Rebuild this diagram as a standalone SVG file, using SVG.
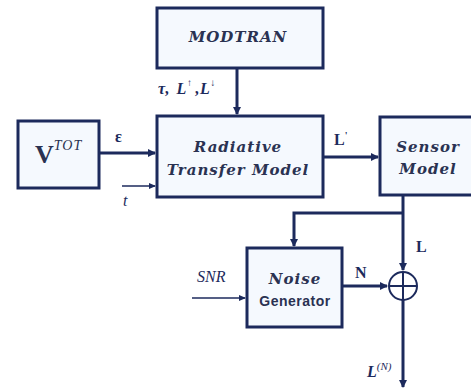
<svg xmlns="http://www.w3.org/2000/svg" width="471" height="389" viewBox="0 0 471 389">
<defs>
<marker id="ah" markerWidth="9" markerHeight="9" refX="7" refY="4.5" orient="auto" markerUnits="userSpaceOnUse"><path d="M0,0.5 L8,4.5 L0,8.5 Z" fill="#1c2a5c"/></marker>
<marker id="ahs" markerWidth="8" markerHeight="8" refX="6" refY="4" orient="auto" markerUnits="userSpaceOnUse"><path d="M0,1 L7,4 L0,7 Z" fill="#1c2a5c"/></marker>
</defs>
<style>
.box{fill:#f5f9fe;stroke:#1c2a5c;stroke-width:3}
.bt{font-family:"DejaVu Serif",serif;font-weight:bold;font-style:italic;font-size:15px;letter-spacing:1px;fill:#2a3252;text-anchor:middle}
.lbl{font-family:"Liberation Serif",serif;fill:#1c2a5c;font-size:16px}
.ln{stroke:#1c2a5c;stroke-width:3;fill:none}
.thin{stroke:#1c2a5c;stroke-width:1.5;fill:none}
</style>
<rect width="471" height="389" fill="#ffffff"/>
<g id="modtran"><rect class="box" x="157" y="8" width="166" height="60"/><text class="bt" x="238" y="42" font-size="14" letter-spacing="0.8">MODTRAN</text></g>
<g id="vtot"><rect class="box" x="18" y="121" width="81" height="67"/><text x="35" y="163" font-family="Liberation Serif,serif" fill="#2a3252"><tspan font-weight="bold" font-size="26">V</tspan><tspan font-style="italic" font-size="14" letter-spacing="1" dy="-13">TOT</tspan></text></g>
<g id="rtm"><rect class="box" x="157" y="116" width="166" height="81"/><text class="bt" x="238" y="152">Radiative</text><text class="bt" x="238" y="175">Transfer Model</text></g>
<g id="sensor"><rect class="box" x="380" y="117" width="98" height="78"/><text class="bt" x="428" y="152">Sensor</text><text class="bt" x="428" y="174">Model</text></g>
<g id="noise"><rect class="box" x="247" y="248" width="95" height="79"/><text class="bt" x="295" y="284">Noise</text><text x="295" y="306" font-family="Liberation Sans,sans-serif" font-weight="bold" font-size="14" letter-spacing="0.5" fill="#2a3252" text-anchor="middle">Generator</text></g>
<g id="sum"><circle cx="403" cy="286" r="14" fill="#ffffff" stroke="#1c2a5c" stroke-width="2"/><path d="M389,286 H417 M403,272 V300" stroke="#1c2a5c" stroke-width="2"/></g>
<g id="connectors">
<path class="ln" d="M237,68 V114" marker-end="url(#ah)"/>
<path class="ln" d="M99,153 H155" marker-end="url(#ah)"/>
<path class="thin" d="M122,186 H155" marker-end="url(#ahs)"/>
<path class="ln" d="M323,157 H378" marker-end="url(#ah)"/>
<path class="ln" d="M403,195 V270" marker-end="url(#ah)"/>
<path class="ln" d="M403,213 H294 V246" marker-end="url(#ah)"/>
<path class="thin" d="M192,298 H245" marker-end="url(#ahs)"/>
<path class="ln" d="M342,286 H387" marker-end="url(#ah)"/>
<path class="ln" d="M403,300 V387" marker-end="url(#ah)"/>
</g>
<g id="labels">
<text class="lbl" x="158" y="94" font-style="italic" font-weight="bold" letter-spacing="0.5">τ, <tspan dx="2">L</tspan><tspan font-size="10" dy="-8">↑</tspan><tspan dy="8" dx="3">,L</tspan><tspan font-size="10" dy="-8">↓</tspan></text>
<text class="lbl" x="115" y="142" font-weight="bold">ε</text>
<text class="lbl" x="123" y="206" font-style="italic">t</text>
<text class="lbl" x="334" y="145" font-weight="bold">L<tspan font-size="10" dy="-6">'</tspan></text>
<text class="lbl" x="197" y="282" font-style="italic" font-size="15" fill="#5a6788">SNR</text>
<text class="lbl" x="355" y="278" font-weight="bold" font-size="14">N</text>
<text class="lbl" x="416" y="252" font-weight="bold" font-size="14">L</text>
<text class="lbl" x="367" y="377" font-style="italic" font-weight="bold">L<tspan font-size="11" font-weight="normal" dy="-7">(N)</tspan></text>
</g>
</svg>
